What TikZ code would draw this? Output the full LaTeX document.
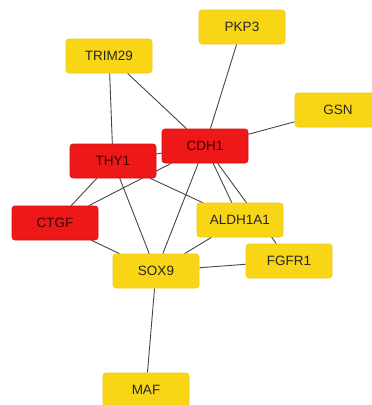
\documentclass[tikz,border=0pt]{standalone}
\usepackage{fontspec}
\setmainfont{Liberation Sans}
\usetikzlibrary{backgrounds}
\definecolor{hubred}{RGB}{238,24,24}
\definecolor{hubredline}{RGB}{215,10,10}
\definecolor{geneyellow}{RGB}{248,214,22}
\definecolor{edgegray}{RGB}{70,70,70}
\tikzset{
  gene/.style={rectangle, rounded corners=3pt, minimum width=86pt, minimum height=34pt,
    inner sep=0pt, font=\fontsize{13.5}{14}\selectfont, text=black!85},
  yel/.style={gene, fill=geneyellow, draw=geneyellow!95!black, line width=0.6pt},
  hub/.style={gene, fill=hubred, draw=hubredline, line width=0.6pt, text=black!75!red},
  link/.style={draw=edgegray, line width=0.9pt}
}
\begin{document}
\begin{tikzpicture}[x=1pt,y=-1pt]
\useasboundingbox (0,0) rectangle (372,405);
\clip (0,0) rectangle (372,405);
% nodes
\node[yel] (pkp3) at (242,27) {PKP3};
\node[yel] (trim29) at (109,56) {TRIM29};
\node[yel] (gsn) at (338,110) {GSN};
\node[hub] (cdh1) at (205,146) {CDH1};
\node[hub] (thy1) at (113,161) {THY1};
\node[hub] (ctgf) at (55,223) {CTGF};
\node[yel] (aldh) at (240,220) {ALDH1A1};
\node[yel] (fgfr1) at (289,261) {FGFR1};
\node[yel] (sox9) at (156,271) {SOX9};
\node[yel] (maf) at (146,390) {MAF};
% edges, drawn beneath the boxes
\begin{scope}[on background layer]
\fill[white] (0,0) rectangle (372,405);
\draw[link] (trim29) -- (thy1);
\draw[link] (trim29) -- (cdh1);
\draw[link] (pkp3) -- (cdh1);
\draw[link] (gsn) -- (cdh1);
\draw[link] (thy1) -- (cdh1);
\draw[link] (thy1) -- (ctgf);
\draw[link] (cdh1) -- (ctgf);
\draw[link] (thy1) -- (sox9);
\draw[link] (thy1) -- (aldh);
\draw[link] (cdh1) -- (sox9);
\draw[link] (cdh1) -- (aldh);
\draw[link] (cdh1) -- (fgfr1);
\draw[link] (ctgf) -- (sox9);
\draw[link] (aldh) -- (sox9);
\draw[link] (sox9) -- (fgfr1);
\draw[link] (sox9) -- (maf);
\end{scope}
\end{tikzpicture}
\end{document}
